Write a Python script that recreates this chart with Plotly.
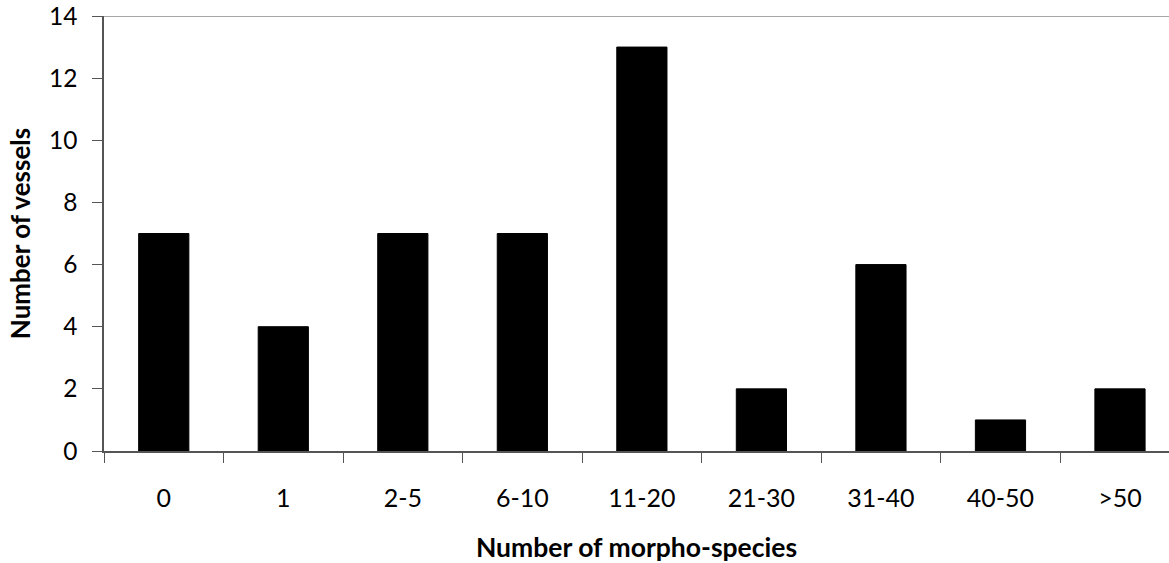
import plotly.graph_objects as go

categories = ["0", "1", "2-5", "6-10", "11-20", "21-30", "31-40", "40-50", ">50"]
vessels = [7, 4, 7, 7, 13, 2, 6, 1, 2]
y_ticks = [0, 2, 4, 6, 8, 10, 12, 14]

fig = go.Figure()
fig.add_trace(go.Bar(
    x=categories, y=vessels, width=0.42,
    marker=dict(color="black", line=dict(color="black", width=1)),
))

font_family = "Lato, 'Open Sans', sans-serif"
fig.update_layout(
    width=1169, height=563,
    margin=dict(l=104, r=0, t=16, b=112),
    plot_bgcolor="white", paper_bgcolor="white",
    showlegend=False,
    font=dict(family=font_family, size=25, color="black"),
    xaxis=dict(
        type="category", range=[-0.5, 8.41], automargin=False,
        tickson="boundaries", ticks="outside", ticklen=10, tickcolor="#555",
        showline=True, linecolor="#555", linewidth=1.5,
        showgrid=False, ticklabelstandoff=24,
        tickfont=dict(size=25),
        title=dict(text="<b>Number of morpho-species</b>", font=dict(size=26.5), standoff=28),
    ),
    yaxis=dict(
        range=[0, 14], tickvals=y_ticks, ticks="outside", ticklen=10, tickcolor="#555",
        showline=True, linecolor="#555", linewidth=1.5, automargin=False,
        showgrid=False, zeroline=False, ticklabelstandoff=10,
        ticklabeloverflow="allow",
        tickfont=dict(size=24.5),
        title=dict(text="<b>Number of vessels</b>", font=dict(size=26), standoff=11),
    ),
)
fig.add_shape(type="line", xref="paper", yref="y", x0=0, x1=1, y0=y_ticks[-1], y1=y_ticks[-1],
              line=dict(color="#888", width=1.5))

fig.write_html("out.html", config={"displayModeBar": False},
               post_script="document.body.style.margin='0';")
